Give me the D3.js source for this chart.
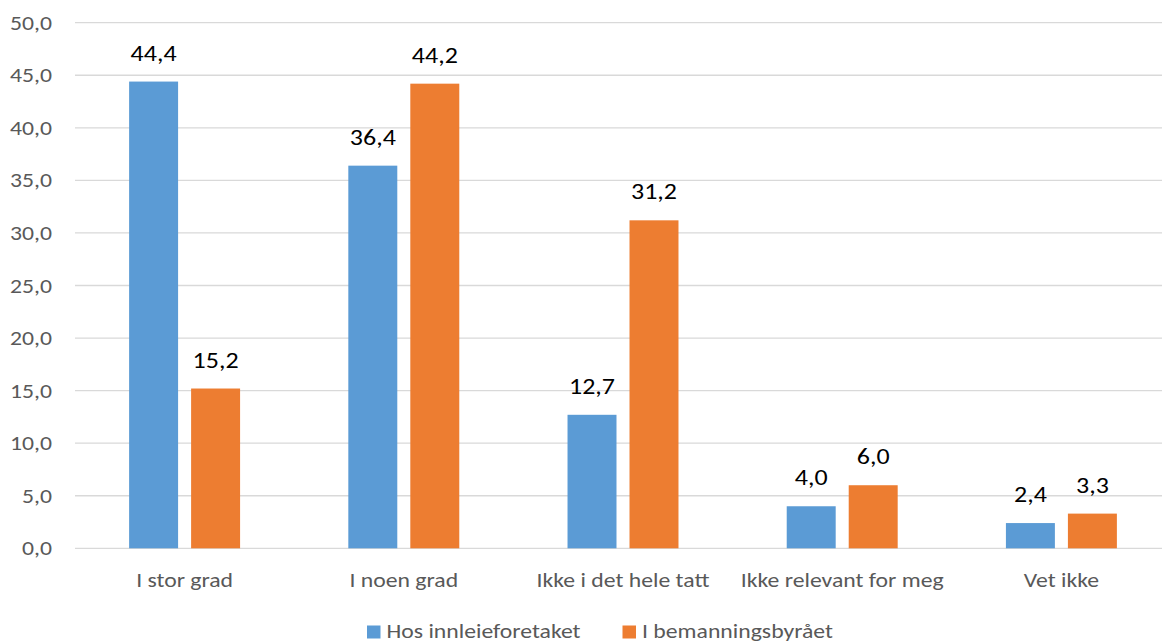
<!DOCTYPE html>
<html>
<head>
<meta charset="utf-8">
<script src="https://cdn.jsdelivr.net/npm/d3@7"></script>
<style>
  html, body { margin: 0; padding: 0; background: #fff; }
  svg { display: block; font-family: Carlito, Calibri, Lato, "Open Sans", sans-serif; }
</style>
</head>
<body>
<svg id="chart" width="1162" height="643"></svg>
<script>
// Survey answers, percent
const categories = ["I stor grad", "I noen grad", "Ikke i det hele tatt", "Ikke relevant for meg", "Vet ikke"];
const seriesNames = ["Hos innleieforetaket", "I bemanningsbyrået"];
const hosInnleie = [44.4, 36.4, 12.7, 4.0, 2.4];
const iBemanning = [15.2, 44.2, 31.2, 6.0, 3.3];
const yTicks = [0, 5, 10, 15, 20, 25, 30, 35, 40, 45, 50];
const colors = ["#5b9bd5", "#ed7d31"];

const seriesValues = [hosInnleie, iBemanning];
const fmt = v => v.toFixed(1).replace(".", ",");
const SX = 1.13; // horizontal text stretch

const svg = d3.select("#chart");

const y = d3.scaleLinear().domain([0, 50]).range([548.3, 22.7]);
const x0 = d3.scaleBand().domain(categories).range([75, 1171]);
const x1 = d3.scaleBand().domain(seriesNames).range([0, x0.bandwidth()])
  .paddingInner(0.21).paddingOuter(0.873);

// place a text node at (x, y) with the horizontal stretch applied
function label(sel, x, yy) {
  return sel.attr("transform", (d, i) => `translate(${x(d, i)},${yy(d, i)}) scale(${SX},1)`);
}

// Gridlines
svg.append("g").selectAll("line").data(yTicks).join("line")
  .attr("x1", 75).attr("x2", 1171)
  .attr("y1", d => y(d)).attr("y2", d => y(d))
  .attr("stroke", "#d9d9d9").attr("stroke-width", 1.3);

// Y tick labels
label(svg.append("g").selectAll("text").data(yTicks).join("text"), () => 52, d => y(d) + 7)
  .attr("text-anchor", "end")
  .attr("fill", "#595959").attr("font-size", 21)
  .text(d => fmt(d));

// Bars and value labels
const groups = svg.append("g").selectAll("g").data(categories).join("g")
  .attr("transform", d => `translate(${x0(d)},0)`);

groups.each(function(cat, ci) {
  const g = d3.select(this);
  seriesNames.forEach((s, si) => {
    const v = seriesValues[si][ci];
    g.append("rect")
      .attr("x", x1(s)).attr("width", x1.bandwidth())
      .attr("y", y(v)).attr("height", y(0) - y(v))
      .attr("fill", colors[si]);
    g.append("text")
      .attr("transform", `translate(${x1(s) + x1.bandwidth() / 2},${y(v) - 21}) scale(${SX},1)`)
      .attr("text-anchor", "middle").attr("fill", "#000").attr("font-size", 23)
      .text(fmt(v));
  });
});

// Category labels
label(svg.append("g").selectAll("text").data(categories).join("text"),
      d => x0(d) + x0.bandwidth() / 2, () => 587)
  .attr("text-anchor", "middle").attr("fill", "#595959").attr("font-size", 21)
  .text(d => d);

// Legend
const legendX = [367, 622.5];
const legend = svg.append("g").selectAll("g").data(seriesNames).join("g")
  .attr("transform", (d, i) => `translate(${legendX[i]},637.5)`);
legend.append("rect").attr("x", 0).attr("y", -12).attr("width", 13.5).attr("height", 13)
  .attr("fill", (d, i) => colors[i]);
legend.append("text").attr("transform", `translate(19.5,0) scale(${SX},1)`)
  .attr("fill", "#595959").attr("font-size", 21).text(d => d);
</script>
</body>
</html>
